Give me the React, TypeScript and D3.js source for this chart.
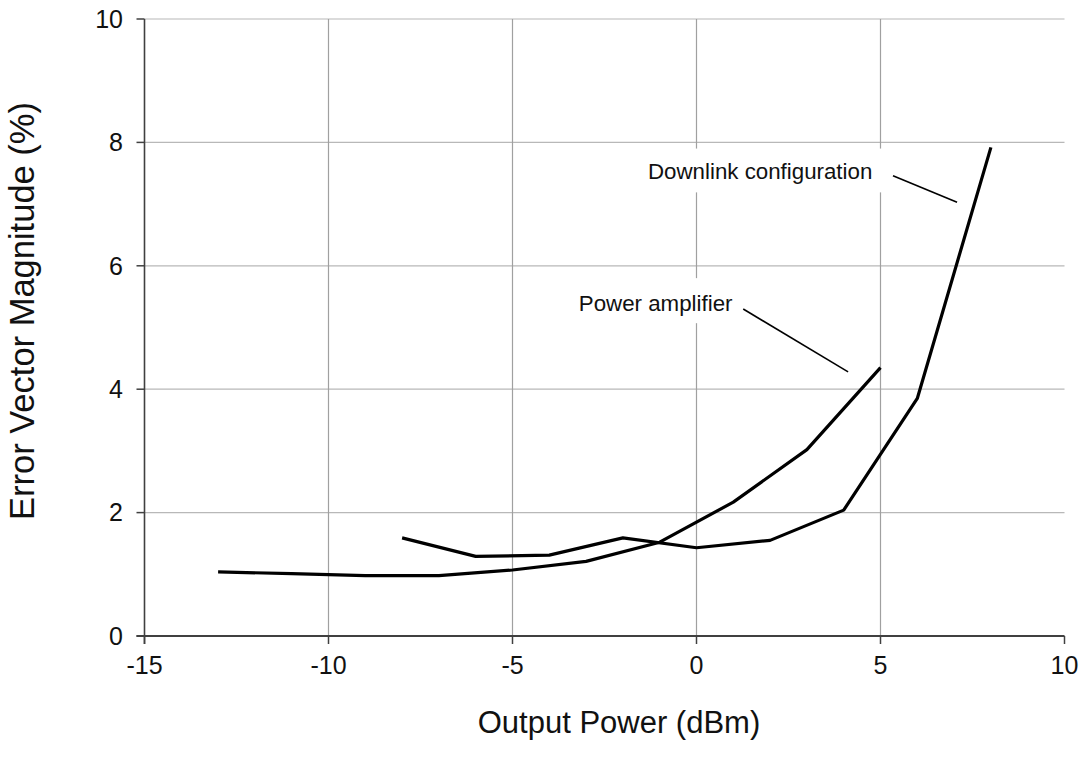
import React from "react";
import * as d3 from "d3";

const xTicks = [-15, -10, -5, 0, 5, 10];
const yTicks = [0, 2, 4, 6, 8, 10];
const paX = [-13, -11, -9, -7, -5, -3, -1, 1, 3, 5];
const paY = [1.04, 1.01, 0.98, 0.98, 1.07, 1.21, 1.52, 2.17, 3.02, 4.35];
const dlX = [-8, -6, -4, -2, 0, 2, 4, 6, 8];
const dlY = [1.59, 1.29, 1.31, 1.59, 1.43, 1.55, 2.04, 3.85, 7.92];
const xTitle = "Output Power (dBm)";
const yTitle = "Error Vector Magnitude (%)";
const labelDL = "Downlink configuration";
const labelPA = "Power amplifier";

const W = 1085;
const H = 774;
const L = 144.5, R = 1064.5, T = 19, B = 636;

export default function App() {
  const x = d3.scaleLinear().domain([-15, 10]).range([L, R]);
  const y = d3.scaleLinear().domain([0, 10]).range([B, T]);
  const line = d3
    .line<[number, number]>()
    .x((d) => x(d[0]))
    .y((d) => y(d[1]));
  const pa: [number, number][] = paX.map((v, i) => [v, paY[i]]);
  const dl: [number, number][] = dlX.map((v, i) => [v, dlY[i]]);
  const font = "Arial, 'Liberation Sans', Helvetica, sans-serif";

  return (
    <svg
      width={W}
      height={H}
      style={{ position: "absolute", left: 0, top: 0, background: "#fff" }}
      fontFamily={font}
    >
      <rect x={0} y={0} width={W} height={H} fill="#fff" />
      {yTicks
        .filter((t) => t > 0)
        .map((t) => (
          <line key={"hy" + t} x1={L} x2={R} y1={y(t)} y2={y(t)} stroke="#b8b8b8" strokeWidth={1.2} />
        ))}
      {xTicks
        .filter((t) => t > -15 && t < 10)
        .map((t) => (
          <line key={"vx" + t} x1={x(t)} x2={x(t)} y1={T} y2={B} stroke="#a0a0a0" strokeWidth={1.2} />
        ))}
      <line x1={L} x2={L} y1={T} y2={B + 8} stroke="#404040" strokeWidth={1.6} />
      <line x1={L - 8} x2={R} y1={B} y2={B} stroke="#404040" strokeWidth={1.8} />
      {yTicks.map((t) => (
        <g key={"yt" + t}>
          <line x1={L - 8} x2={L} y1={y(t)} y2={y(t)} stroke="#404040" strokeWidth={1.5} />
          <text x={123} y={y(t)} dy="0.35em" textAnchor="end" fontSize={25} fill="#111">
            {t}
          </text>
        </g>
      ))}
      {xTicks.map((t) => (
        <g key={"xt" + t}>
          <line x1={x(t)} x2={x(t)} y1={B} y2={B + 8} stroke="#404040" strokeWidth={1.5} />
          <text x={x(t)} y={674} textAnchor="middle" fontSize={25} fill="#111">
            {t}
          </text>
        </g>
      ))}
      <path d={line(pa) || ""} fill="none" stroke="#000" strokeWidth={3.2} strokeLinejoin="round" />
      <path d={line(dl) || ""} fill="none" stroke="#000" strokeWidth={3.2} strokeLinejoin="round" />
      <rect x={x(-0.18)} y={y(7.9)} width={x(5.1) - x(-0.18)} height={y(7.19) - y(7.9)} fill="#fff" />
      <text x={x(1.73)} y={y(7.54)} dy="0.35em" textAnchor="middle" fontSize={22.3} fill="#111">
        {labelDL}
      </text>
      <line x1={x(5.34)} y1={y(7.46)} x2={x(7.08)} y2={y(7.03)} stroke="#000" strokeWidth={1.6} />
      <rect x={x(-3.4)} y={y(5.8)} width={x(1.15) - x(-3.4)} height={y(5.07) - y(5.8)} fill="#fff" />
      <text x={x(-1.11)} y={y(5.4)} dy="0.35em" textAnchor="middle" fontSize={22.3} fill="#111">
        {labelPA}
      </text>
      <line x1={x(1.27)} y1={y(5.3)} x2={x(4.12)} y2={y(4.28)} stroke="#000" strokeWidth={1.6} />
      <text x={619} y={733} textAnchor="middle" fontSize={31} fill="#111">
        {xTitle}
      </text>
      <text
        transform={`translate(34, 311) rotate(-90)`}
        textAnchor="middle"
        fontSize={34.5}
        fill="#111"
      >
        {yTitle}
      </text>
    </svg>
  );
}
